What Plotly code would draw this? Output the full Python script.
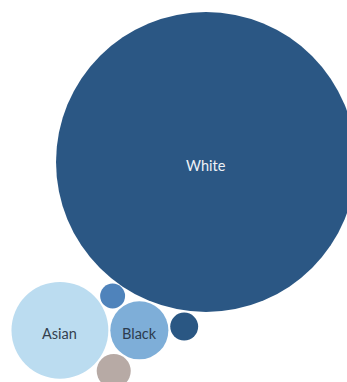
import math
import plotly.graph_objects as go

# Share of people by race (percent)
categories = ["White", "Asian", "Black", "Unknown", "Two or More Races", "American Indian"]
shares = [85.4, 8.9, 3.2, 1.1, 0.74, 0.59]
colors = ["#2b5784", "#bbdcf0", "#7eaed8", "#b7aaa5", "#2a5783", "#4f83bb"]
label_colors = ["#eef2f7", "#34414f", "#2c3b4d", "#34414f", "#eef2f7", "#eef2f7"]

W, H = 347, 382
PX_PER_SQRT = 16.23   # bubble radius in px per sqrt(percent)
GAP = 2.0             # white gap between neighbouring bubbles
LABEL_MIN_R = 25      # bubbles smaller than this stay unlabeled

radii = [PX_PER_SQRT * math.sqrt(v) for v in shares]
idx = {c: i for i, c in enumerate(categories)}
centers = [None] * len(categories)


def touching(ci, cj, r, side):
    """Centre of a circle of radius r touching circles ci and cj."""
    (x1, y1), r1 = centers[ci], radii[ci]
    (x2, y2), r2 = centers[cj], radii[cj]
    d1, d2 = r1 + r + GAP, r2 + r + GAP
    dx, dy = x2 - x1, y2 - y1
    D = math.hypot(dx, dy)
    a = (d1 * d1 - d2 * d2 + D * D) / (2 * D)
    h = math.sqrt(max(d1 * d1 - a * a, 0.0))
    ux, uy = dx / D, dy / D
    return (x1 + a * ux - side * h * uy, y1 + a * uy + side * h * ux)


def beside(ci, r, angle_deg):
    """Centre of a circle of radius r touching circle ci in a given direction."""
    (x, y), rc = centers[ci], radii[ci]
    t = math.radians(angle_deg)
    d = rc + r + GAP
    return (x + d * math.cos(t), y + d * math.sin(t))


# Pack the bubbles around the largest one (y grows downward)
centers[idx["White"]] = (0.0, 0.0)
centers[idx["Black"]] = beside(idx["White"], radii[idx["Black"]], 111.6)
centers[idx["Asian"]] = beside(idx["Black"], radii[idx["Asian"]], 180.0)
centers[idx["American Indian"]] = touching(idx["Asian"], idx["Black"], radii[idx["American Indian"]], -1)
centers[idx["Unknown"]] = touching(idx["Asian"], idx["Black"], radii[idx["Unknown"]], 1)
centers[idx["Two or More Races"]] = touching(idx["White"], idx["Black"], radii[idx["Two or More Races"]], -1)

xs = [c[0] for c in centers]
ys = [c[1] for c in centers]

fig = go.Figure(
    go.Scatter(
        x=xs,
        y=ys,
        mode="markers",
        marker=dict(size=[2 * r for r in radii], color=colors, line=dict(width=0), opacity=1),
        customdata=shares,
        hovertext=categories,
        hovertemplate="%{hovertext}: %{customdata}%<extra></extra>",
        cliponaxis=True,
    )
)

# Category names inside the bubbles that are large enough
for name, x, y, r, col in zip(categories, xs, ys, radii, label_colors):
    if r >= LABEL_MIN_R:
        fig.add_annotation(
            x=x, y=y, text=name, showarrow=False, yshift=-3,
            font=dict(family="Lato, Open Sans, sans-serif", size=14.5, color=col),
        )

# Frame the view around the big bubble
left = -206.0
top = -162.0
fig.update_layout(
    width=W,
    height=H,
    margin=dict(l=0, r=0, t=0, b=0),
    paper_bgcolor="white",
    plot_bgcolor="white",
    showlegend=False,
    xaxis=dict(range=[left, left + W], visible=False, fixedrange=True),
    yaxis=dict(range=[top + H, top], visible=False, fixedrange=True),
)

fig.write_html("out.html")
